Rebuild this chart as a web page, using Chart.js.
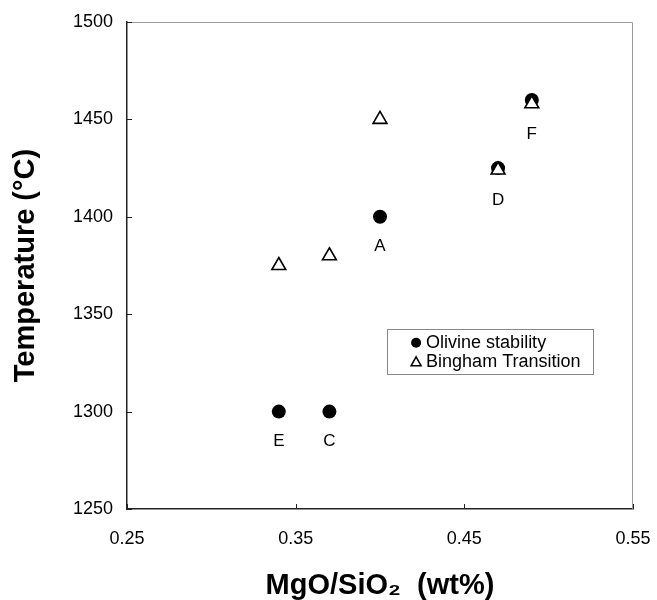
<!DOCTYPE html>
<html>
<head>
<meta charset="utf-8">
<script src="https://cdn.jsdelivr.net/npm/chart.js@4"></script>
<style>
  html, body { margin: 0; padding: 0; background: #fff; }
  #wrap { width: 657px; height: 600px; }
</style>
</head>
<body>
<div id="wrap"><canvas id="myChart" width="657" height="600"></canvas></div>
<script>
// data
const ratio = [0.34, 0.37, 0.40, 0.47, 0.49];
const sampleNames = ["E", "C", "A", "D", "F"];
const olivineTemp = [1300, 1300, 1400, 1425, 1460];
const binghamTemp = [1375, 1380, 1450, 1424, 1458];
const xTicks = [0.25, 0.35, 0.45, 0.55];
const yTicks = [1250, 1300, 1350, 1400, 1450, 1500];

const FONT = "'Liberation Sans', Arial, sans-serif";

const toPoints = (ys) => ratio.map((x, i) => ({ x: x, y: ys[i] }));

// little inward ticks, the box, the sample letters and the legend
const extras = {
  id: "extras",
  afterDatasetsDraw(chart) {
    const c = chart.ctx;
    const a = chart.chartArea;
    const xs = chart.scales.x;
    const ys = chart.scales.y;
    c.save();

    // top / right frame in grey
    c.strokeStyle = "#999";
    c.lineWidth = 1;
    c.beginPath();
    c.moveTo(a.left, a.top + 0.5);
    c.lineTo(a.right - 0.5, a.top + 0.5);
    c.lineTo(a.right - 0.5, a.bottom);
    c.stroke();

    // inward ticks
    c.strokeStyle = "#222";
    c.beginPath();
    yTicks.forEach((v) => {
      const p = Math.round(ys.getPixelForValue(v)) + 0.5;
      c.moveTo(a.left, p);
      c.lineTo(a.left + 5, p);
    });
    xTicks.forEach((v) => {
      const p = Math.round(xs.getPixelForValue(v)) + 0.5;
      c.moveTo(p, a.bottom);
      c.lineTo(p, a.bottom - 5);
    });
    c.stroke();

    // sample letters under the points
    c.fillStyle = "#000";
    c.font = "17px " + FONT;
    c.textAlign = "center";
    c.textBaseline = "middle";
    sampleNames.forEach((n, i) => {
      const px = xs.getPixelForValue(ratio[i]);
      const py = ys.getPixelForValue(Math.min(olivineTemp[i], binghamTemp[i]));
      c.fillText(n, px, py + 30);
    });

    // legend box
    const lx = a.left + (a.right - a.left) * 0.514;
    const ly = a.top + (a.bottom - a.top) * 0.63;
    const lw = 206, lh = 45;
    c.fillStyle = "#fff";
    c.fillRect(lx, ly, lw, lh);
    c.strokeStyle = "#888";
    c.lineWidth = 1;
    c.strokeRect(Math.round(lx) + 0.5, Math.round(ly) + 0.5, lw, lh);

    c.fillStyle = "#000";
    c.beginPath();
    c.arc(lx + 29, ly + 14, 5, 0, Math.PI * 2);
    c.fill();

    c.strokeStyle = "#000";
    c.lineWidth = 1.5;
    c.beginPath();
    c.moveTo(lx + 29, ly + 28);
    c.lineTo(lx + 34, ly + 37);
    c.lineTo(lx + 24, ly + 37);
    c.closePath();
    c.stroke();

    c.textAlign = "left";
    c.font = "18px " + FONT;
    c.fillText("Olivine stability", lx + 39, ly + 14);
    c.fillText("Bingham Transition", lx + 39, ly + 33);

    c.restore();
  },
};

const ctx = document.getElementById("myChart").getContext("2d");
const myChart = new Chart(ctx, {
  type: "scatter",
  data: {
    datasets: [
      {
        label: "Olivine stability",
        data: toPoints(olivineTemp),
        pointStyle: "circle",
        pointRadius: 7,
        pointHoverRadius: 7,
        backgroundColor: "#000",
        borderColor: "#000",
        borderWidth: 0,
        order: 1,
      },
      {
        label: "Bingham Transition",
        data: toPoints(binghamTemp),
        pointStyle: "triangle",
        pointRadius: 8,
        pointHoverRadius: 8,
        backgroundColor: "#fff",
        borderColor: "#000",
        borderWidth: 1.6,
        order: 0,
      },
    ],
  },
  options: {
    responsive: false,
    animation: false,
    events: [],
    layout: { padding: { left: 0, right: 24, top: 22, bottom: 0 } },
    scales: {
      x: {
        type: "linear",
        min: 0.25,
        max: 0.55,
        afterBuildTicks: (s) => { s.ticks = xTicks.map((v) => ({ value: v })); },
        afterFit: (s) => { s.height = 91; s.paddingLeft = 0; s.paddingRight = 0; },
        grid: { display: false, drawTicks: false },
        border: { display: true, color: "#222", width: 1.5 },
        ticks: {
          color: "#000",
          padding: 19,
          font: { family: FONT, size: 18 },
          callback: (v) => v.toFixed(2),
        },
        title: {
          display: true,
          text: "MgO/SiO\u2082  (wt%)",
          color: "#000",
          font: { family: FONT, size: 29, weight: "bold", lineHeight: 1 },
          padding: { top: 0, bottom: 0 },
        },
      },
      y: {
        type: "linear",
        min: 1250,
        max: 1500,
        afterBuildTicks: (s) => { s.ticks = yTicks.map((v) => ({ value: v })); },
        afterFit: (s) => { s.width = 127; s.paddingTop = 0; s.paddingBottom = 0; },
        grid: { display: false, drawTicks: false },
        border: { display: true, color: "#222", width: 1.5 },
        ticks: {
          color: "#000",
          padding: 14,
          font: { family: FONT, size: 18 },
          callback: (v) => String(v),
        },
        title: {
          display: true,
          text: "Temperature (°C)",
          color: "#000",
          font: { family: FONT, size: 29, weight: "bold", lineHeight: 1 },
          padding: { top: 11, bottom: 0 },
        },
      },
    },
    plugins: {
      legend: { display: false },
      tooltip: { enabled: false },
    },
  },
  plugins: [extras],
});
</script>
</body>
</html>
